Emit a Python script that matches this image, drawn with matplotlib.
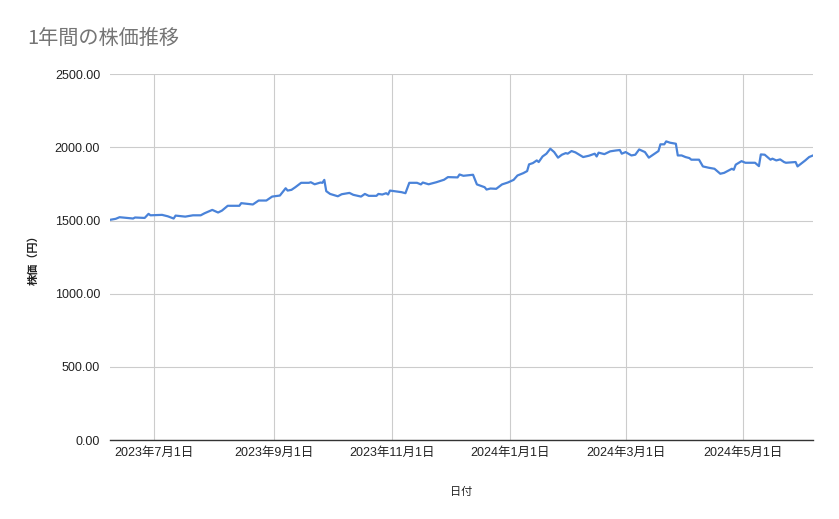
import numpy as np
import pandas as pd
import matplotlib
matplotlib.use("Agg")
import matplotlib.pyplot as plt

plt.rcParams['font.family'] = ['Liberation Sans', 'Noto Sans CJK JP', 'DejaVu Sans']

# ----------------------------
# data
# ----------------------------
dates = [
    "2023-06-08", "2023-06-11", "2023-06-13", "2023-06-20", "2023-06-21",
    "2023-06-26", "2023-06-28", "2023-06-29", "2023-07-05", "2023-07-08",
    "2023-07-11", "2023-07-12", "2023-07-17", "2023-07-21", "2023-07-25",
    "2023-07-27", "2023-07-31", "2023-08-03", "2023-08-05", "2023-08-08",
    "2023-08-14", "2023-08-15", "2023-08-20", "2023-08-21", "2023-08-24",
    "2023-08-28", "2023-08-31", "2023-09-04", "2023-09-07", "2023-09-08",
    "2023-09-10", "2023-09-12", "2023-09-15", "2023-09-19", "2023-09-20",
    "2023-09-22", "2023-09-25", "2023-09-26", "2023-09-27", "2023-09-28",
    "2023-09-30", "2023-10-04", "2023-10-06", "2023-10-10", "2023-10-12",
    "2023-10-16", "2023-10-18", "2023-10-20", "2023-10-24", "2023-10-25",
    "2023-10-27", "2023-10-29", "2023-10-30", "2023-10-31", "2023-11-06",
    "2023-11-08", "2023-11-10", "2023-11-14", "2023-11-16", "2023-11-17",
    "2023-11-20", "2023-11-24", "2023-11-28", "2023-11-30", "2023-12-05",
    "2023-12-06", "2023-12-08", "2023-12-13", "2023-12-15", "2023-12-19",
    "2023-12-20", "2023-12-22", "2023-12-25", "2023-12-28", "2023-12-31",
    "2024-01-03", "2024-01-05", "2024-01-08", "2024-01-10", "2024-01-11",
    "2024-01-13", "2024-01-15", "2024-01-16", "2024-01-18", "2024-01-20",
    "2024-01-22", "2024-01-24", "2024-01-26", "2024-01-28", "2024-01-30",
    "2024-01-31", "2024-02-02", "2024-02-04", "2024-02-08", "2024-02-11",
    "2024-02-14", "2024-02-15", "2024-02-16", "2024-02-19", "2024-02-22",
    "2024-02-25", "2024-02-27", "2024-02-28", "2024-03-01", "2024-03-04",
    "2024-03-06", "2024-03-08", "2024-03-11", "2024-03-13", "2024-03-16",
    "2024-03-18", "2024-03-19", "2024-03-21", "2024-03-22", "2024-03-24",
    "2024-03-27", "2024-03-28", "2024-03-30", "2024-04-01", "2024-04-03",
    "2024-04-04", "2024-04-08", "2024-04-10", "2024-04-13", "2024-04-16",
    "2024-04-19", "2024-04-21", "2024-04-25", "2024-04-26", "2024-04-27",
    "2024-04-30", "2024-05-02", "2024-05-07", "2024-05-09", "2024-05-10",
    "2024-05-12", "2024-05-15", "2024-05-16", "2024-05-18", "2024-05-20",
    "2024-05-22", "2024-05-23", "2024-05-28", "2024-05-29", "2024-06-02",
    "2024-06-04", "2024-06-06",
]

prices = [
    1505, 1512, 1523, 1514, 1521, 1518, 1546, 1536, 1539, 1529,
    1514, 1534, 1527, 1536, 1536, 1550, 1573, 1555, 1568, 1601,
    1601, 1619, 1612, 1610, 1637, 1637, 1664, 1671, 1721, 1705,
    1710, 1728, 1758, 1758, 1762, 1748, 1760, 1758, 1778, 1701,
    1682, 1666, 1680, 1689, 1676, 1664, 1682, 1669, 1669, 1682,
    1678, 1687, 1678, 1705, 1694, 1687, 1758, 1758, 1747, 1760,
    1748, 1762, 1779, 1797, 1795, 1815, 1806, 1813, 1747, 1728,
    1712, 1719, 1717, 1747, 1760, 1778, 1808, 1824, 1838, 1884,
    1893, 1911, 1900, 1938, 1957, 1991, 1968, 1930, 1950, 1961,
    1957, 1975, 1966, 1934, 1943, 1957, 1938, 1964, 1954, 1973,
    1979, 1982, 1957, 1968, 1945, 1950, 1986, 1968, 1930, 1957,
    1975, 2021, 2021, 2041, 2032, 2025, 1945, 1945, 1934, 1927,
    1916, 1916, 1870, 1861, 1854, 1820, 1826, 1854, 1847, 1882,
    1906, 1895, 1895, 1872, 1952, 1950, 1916, 1923, 1911, 1918,
    1900, 1895, 1900, 1870, 1911, 1934, 1945,
]

tick_dates = ["2023-07-01", "2023-09-01", "2023-11-01",
              "2024-01-01", "2024-03-01", "2024-05-01"]
tick_labels = ["2023年7月1日", "2023年9月1日", "2023年11月1日",
               "2024年1月1日", "2024年3月1日", "2024年5月1日"]
y_ticks = [0, 500, 1000, 1500, 2000, 2500]

x = pd.to_datetime(dates)

# ----------------------------
# figure
# ----------------------------
fig = plt.figure(figsize=(8.39, 5.19), dpi=100)
ax = fig.add_axes([0.131, 0.152, 0.838, 0.705])

ax.plot(x, prices, color="#4a83d9", linewidth=1.6, solid_joinstyle="round")

ax.set_xlim(x[0], x[-1])
ax.set_ylim(0, 2500)
ax.set_yticks(y_ticks)
ax.set_yticklabels([f"{v:.2f}" for v in y_ticks])
ax.set_xticks(pd.to_datetime(tick_dates))
ax.set_xticklabels(tick_labels)

ax.grid(True, color="#cccccc", linewidth=0.8)
ax.set_axisbelow(True)
for side in ["top", "right", "left"]:
    ax.spines[side].set_visible(False)
ax.spines["bottom"].set_color("#333333")
ax.spines["bottom"].set_linewidth(1.0)
ax.tick_params(length=0, labelsize=9, colors="#222222")
ax.tick_params(axis="y", pad=7)
ax.tick_params(axis="x", pad=5)

ax.set_ylabel("株価（円）", fontsize=8, fontweight="bold", color="#222222", labelpad=12)
ax.set_xlabel("日付", fontsize=8, color="#222222", labelpad=20)

fig.text(0.032, 0.925, "1年間の株価推移", fontsize=14.5, color="#757575",
         family=['Noto Sans CJK JP', 'DejaVu Sans'], va="center")

fig.savefig("out.png", dpi=100)
